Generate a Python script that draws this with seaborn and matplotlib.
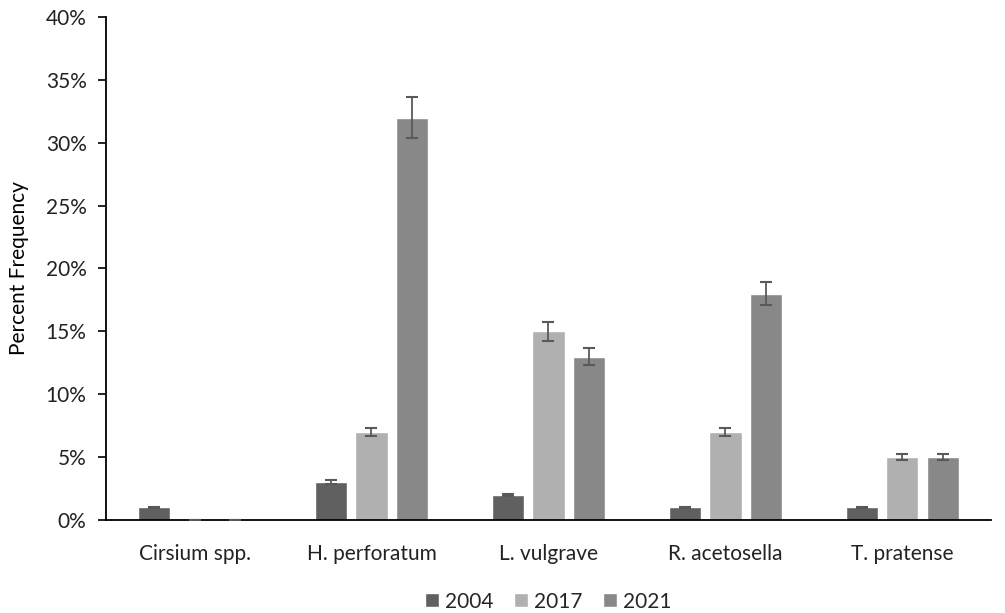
import matplotlib
matplotlib.use("Agg")
import matplotlib.pyplot as plt
import seaborn as sns
import pandas as pd
import numpy as np
from matplotlib.ticker import PercentFormatter

species = ["Cirsium spp.", "H. perforatum", "L. vulgrave", "R. acetosella", "T. pratense"]
years = ["2004", "2017", "2021"]
vals_2004 = [1, 3, 2, 1, 1]
vals_2017 = [0, 7, 15, 7, 5]
vals_2021 = [0, 32, 13, 18, 5]
err_2004 = [0.05, 0.15, 0.1, 0.05, 0.05]
err_2017 = [0.0, 0.35, 0.75, 0.35, 0.25]
err_2021 = [0.0, 1.6, 0.65, 0.9, 0.25]
colors = ["#606060", "#b0b0b0", "#888888"]

rows = []
for yr, vals, errs in zip(years, [vals_2004, vals_2017, vals_2021], [err_2004, err_2017, err_2021]):
    for sp, v, e in zip(species, vals, errs):
        rows.append({"Species": sp, "Year": yr, "Value": v, "Err": e})
df = pd.DataFrame(rows)

sns.set_theme(style="white")
plt.rcParams["font.family"] = ["Lato", "DejaVu Sans"]

fig = plt.figure(figsize=(10.05, 6.13), dpi=100)
ax = fig.add_axes([0.1055, 0.1517, 0.8805, 0.8206])

sns.barplot(data=df, x="Species", y="Value", hue="Year", hue_order=years,
            palette=colors, width=0.68, gap=0.2, errorbar=None, saturation=1,
            ax=ax, legend=True)

for cont, yr in zip(ax.containers, years):
    sub = df[df["Year"] == yr]
    xs = [p.get_x() + p.get_width() / 2 for p in cont.patches]
    ax.errorbar(xs, sub["Value"].values, yerr=sub["Err"].values, fmt="none",
                ecolor="#595959", elinewidth=1.3, capsize=4.5, capthick=1.5, zorder=3)

ax.set_ylim(0, 40)
ax.set_yticks(np.arange(0, 41, 5))
ax.yaxis.set_major_formatter(PercentFormatter(decimals=0))
ax.set_xlim(-0.5, 4.5)
ax.set_xlabel("")
ax.set_ylabel("Percent Frequency", fontsize=15, color="#000000", labelpad=12)
ax.tick_params(axis="y", left=True, length=6, width=1.2, color="black", labelsize=15, labelcolor="#222222", pad=8)
ax.tick_params(axis="x", bottom=False, labelsize=15, labelcolor="#222222", pad=11)

for s in ["top", "right"]:
    ax.spines[s].set_visible(False)
ax.spines["left"].set_color("black")
ax.spines["left"].set_linewidth(1.3)
ax.spines["bottom"].set_color("black")
ax.spines["bottom"].set_linewidth(1.3)

ax.legend(loc="upper center", bbox_to_anchor=(0.5, -0.105), ncol=3, frameon=False,
          fontsize=15, handlelength=0.65, handleheight=0.65, handletextpad=0.3, columnspacing=1.0)

fig.savefig("out.png", dpi=100)
